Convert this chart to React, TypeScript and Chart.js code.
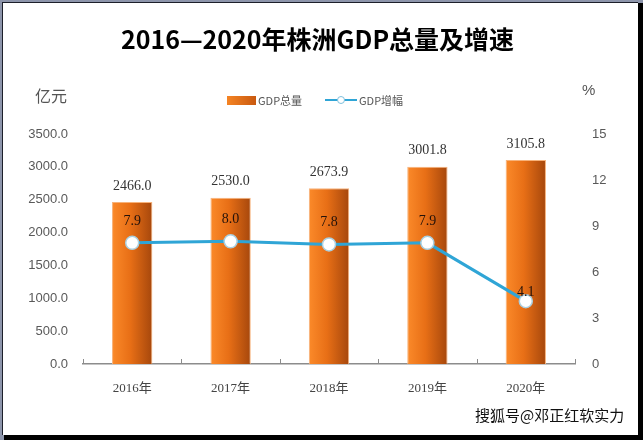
import React, { useEffect, useRef } from "react";
import { Chart, registerables } from "chart.js";

Chart.register(...registerables);

const categories = ["2016年", "2017年", "2018年", "2019年", "2020年"];
const gdpTotal = [2466.0, 2530.0, 2673.9, 3001.8, 3105.8];
const gdpGrowth = [7.9, 8.0, 7.8, 7.9, 4.1];
const leftTicks = { min: 0, max: 3500, step: 500 };
const rightTicks = { min: 0, max: 15, step: 3 };
const lineLabelLift = [22, 22, 22, 22, 9];

const serif = "'Liberation Serif', 'Noto Sans CJK SC', serif";
const sans = "'Liberation Sans', 'Noto Sans CJK SC', sans-serif";
const cjk = "'Noto Sans CJK SC', sans-serif";

const labelsPlugin = {
  id: "valueLabels",
  afterDatasetsDraw(chart: any) {
    const ctx = chart.ctx;
    ctx.save();
    const barMeta = chart.getDatasetMeta(0);
    ctx.textAlign = "center";
    ctx.textBaseline = "middle";
    ctx.font = `14px ${serif}`;
    ctx.fillStyle = "#333333";
    barMeta.data.forEach((el: any, i: number) => {
      ctx.fillText(gdpTotal[i].toFixed(1), el.x, el.y - 16);
    });
    const lineMeta = chart.getDatasetMeta(1);
    ctx.fillStyle = "#24120a";
    lineMeta.data.forEach((el: any, i: number) => {
      ctx.fillText(gdpGrowth[i].toFixed(1), el.x, el.y - lineLabelLift[i]);
    });
    const n = categories.length;
    const area = chart.chartArea;
    ctx.strokeStyle = "#8c8c8c";
    ctx.lineWidth = 1;
    for (let i = 0; i <= n; i++) {
      const x = Math.round(area.left + ((area.right - area.left) * i) / n) + 0.5;
      ctx.beginPath();
      ctx.moveTo(x, area.bottom);
      ctx.lineTo(x, area.bottom - 5);
      ctx.stroke();
    }
    ctx.restore();
  },
};

function barGradient(c: any) {
  const chart = c.chart;
  const xs = chart.scales?.x;
  if (!xs || c.dataIndex === undefined) return "#e4701a";
  const cx = xs.getPixelForValue(c.dataIndex);
  const w = (xs.width / categories.length) * 0.41;
  if (!isFinite(cx) || !isFinite(w) || w <= 0) return "#e4701a";
  const g = chart.ctx.createLinearGradient(cx - w / 2, 0, cx + w / 2, 0);
  g.addColorStop(0, "#fb8a2a");
  g.addColorStop(0.45, "#e86f16");
  g.addColorStop(1, "#a6470c");
  return g;
}

export default function App() {
  const ref = useRef<HTMLCanvasElement | null>(null);
  useEffect(() => {
    if (!ref.current) return;
    const chart = new Chart(ref.current, {
      data: {
        labels: categories,
        datasets: [
          {
            type: "bar",
            label: "GDP总量",
            data: gdpTotal,
            yAxisID: "y",
            backgroundColor: barGradient,
            borderColor: "#f7b27a",
            borderWidth: 1,
            barPercentage: 0.41,
            categoryPercentage: 1,
            order: 2,
          },
          {
            type: "line",
            label: "GDP增幅",
            data: gdpGrowth,
            yAxisID: "y1",
            borderColor: "#2fa5d6",
            borderWidth: 3,
            pointRadius: 6.5,
            pointBackgroundColor: "#ffffff",
            pointBorderColor: "#a9cfe0",
            pointBorderWidth: 1.5,
            tension: 0,
            order: 1,
          },
        ],
      } as any,
      options: {
        animation: false,
        responsive: false,
        maintainAspectRatio: false,
        layout: { padding: { top: 134, left: 0, right: 0, bottom: 0 } },
        plugins: {
          legend: { display: false },
          title: { display: false },
          tooltip: { enabled: false },
        },
        scales: {
          x: {
            offset: true,
            grid: { display: false, drawTicks: false },
            border: { display: true, color: "#8c8c8c", width: 1.5 },
            ticks: {
              padding: 17,
              color: "#444444",
              font: { family: serif, size: 13 },
            },
            afterFit(s: any) {
              s.height = 76;
            },
          },
          y: {
            position: "left",
            min: leftTicks.min,
            max: leftTicks.max,
            grid: { display: false, drawTicks: false },
            border: { display: false },
            ticks: {
              stepSize: leftTicks.step,
              padding: 15,
              color: "#595959",
              font: { family: sans, size: 13 },
              callback: (v: any) => Number(v).toFixed(1),
            },
            afterFit(s: any) {
              s.width = 83;
            },
          },
          y1: {
            position: "right",
            min: rightTicks.min,
            max: rightTicks.max,
            grid: { display: false, drawTicks: false },
            border: { display: false },
            ticks: {
              stepSize: rightTicks.step,
              padding: 17,
              color: "#595959",
              font: { family: sans, size: 13 },
            },
            afterFit(s: any) {
              s.width = 68;
            },
          },
        },
      } as any,
      plugins: [labelsPlugin],
    });
    return () => chart.destroy();
  }, []);

  return (
    <div
      style={{
        position: "fixed",
        left: 0,
        top: 0,
        width: 643,
        height: 440,
        background: "#8d95ab",
        overflow: "hidden",
      }}
    >
      <div style={{ position: "absolute", left: 4, top: 435, width: 639, height: 5, background: "#000" }} />
      <div style={{ position: "absolute", left: 638, top: 3, width: 5, height: 437, background: "#000" }} />
      <div
        style={{
          position: "absolute",
          left: 2,
          top: 2,
          width: 636,
          height: 433,
          background: "#fff",
          borderLeft: "1px solid #1c1f2a",
          borderTop: "1px solid #1c1f2a",
          boxSizing: "border-box",
        }}
      />
      <canvas
        ref={ref}
        width={643}
        height={440}
        style={{ position: "absolute", left: 0, top: 0, width: 643, height: 440 }}
      />
      <div
        style={{
          position: "absolute",
          left: 0,
          width: 643,
          top: 22,
          textAlign: "center",
          fontFamily: cjk,
          fontWeight: 700,
          fontSize: 25,
          lineHeight: "32px",
          color: "#000",
          paddingRight: 8,
          boxSizing: "border-box",
        }}
      >
        2016—2020年株洲GDP总量及增速
      </div>
      <div
        style={{ position: "absolute", left: 35, top: 84, fontFamily: cjk, fontSize: 16, lineHeight: "22px", color: "#555" }}
      >
        亿元
      </div>
      <div
        style={{ position: "absolute", left: 582, top: 80, fontFamily: sans, fontSize: 15, lineHeight: "20px", color: "#555" }}
      >
        %
      </div>
      <div
        style={{
          position: "absolute",
          left: 227,
          top: 96,
          width: 29,
          height: 9,
          background: "linear-gradient(to right, #f58424, #c9590f)",
        }}
      />
      <div
        style={{ position: "absolute", left: 258, top: 92, fontFamily: cjk, fontSize: 11, lineHeight: "16px", color: "#555" }}
      >
        GDP总量
      </div>
      <div style={{ position: "absolute", left: 325, top: 99, width: 32, height: 2, background: "#2fa5d6" }} />
      <div
        style={{
          position: "absolute",
          left: 337,
          top: 96,
          width: 6,
          height: 6,
          borderRadius: "50%",
          background: "#fff",
          border: "1px solid #7fbfdc",
        }}
      />
      <div
        style={{ position: "absolute", left: 359, top: 92, fontFamily: cjk, fontSize: 11, lineHeight: "16px", color: "#555" }}
      >
        GDP增幅
      </div>
      <div
        style={{
          position: "absolute",
          left: 475,
          top: 404,
          fontFamily: cjk,
          fontSize: 15,
          lineHeight: "22px",
          color: "#111",
          whiteSpace: "nowrap",
        }}
      >
        搜狐号@邓正红软实力
      </div>
    </div>
  );
}
